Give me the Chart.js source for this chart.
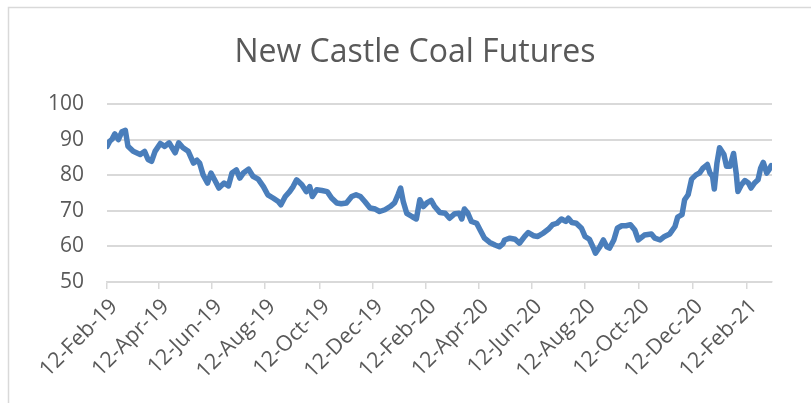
<!DOCTYPE html>
<html>
<head>
<meta charset="utf-8">
<script src="https://cdn.jsdelivr.net/npm/chart.js@4.4.1/dist/chart.umd.min.js"></script>
<style>
  html, body { margin: 0; padding: 0; background: #ffffff; overflow: hidden; }
  #wrap { position: absolute; left: 0; top: 0; width: 811px; height: 403px; }
</style>
</head>
<body>
<div id="wrap"><canvas id="c" width="811" height="403"></canvas></div>
<script>
// Days elapsed since 12-Feb-2019 (x values)
const dayIndex = [
  0, 3, 6, 9, 13, 17, 21, 24, 30, 38, 43, 47, 51, 55, 61, 66, 71, 78, 82, 87,
  93, 99, 103, 106, 110, 115, 119, 124, 128, 134, 139, 143, 148, 152, 156, 162, 167, 173, 179, 184,
  190, 196, 199, 204, 209, 213, 217, 223, 228, 232, 235, 240, 246, 252, 257, 263, 268, 274, 280, 285,
  290, 295, 301, 307, 312, 318, 324, 329, 333, 336, 339, 343, 349, 354, 358, 362, 366, 371, 375, 381,
  387, 392, 398, 403, 406, 409, 413, 417, 423, 427, 432, 438, 444, 449, 453, 455, 461, 467, 472, 478,
  482, 488, 493, 499, 505, 510, 515, 520, 525, 528, 532, 537, 543, 547, 552, 556, 559, 564, 568, 572,
  575, 580, 584, 589, 594, 599, 604, 608, 615, 623, 627, 633, 638, 644, 650, 653, 658, 661, 665, 669,
  674, 678, 682, 687, 690, 693, 695, 698, 701, 706, 709, 713, 717, 720, 722, 726, 730, 734, 737, 741,
  745, 748, 751, 755, 758, 760
];
// Coal futures price (USD/t)
const prices = [
  88.1, 89.5, 90.2, 91.6, 90.0, 92.2, 92.6, 88.1, 86.7, 85.8, 86.7, 84.4, 83.9, 86.7, 88.9, 88.1, 89.1, 86.3, 89.1, 87.7,
  86.7, 83.4, 84.2, 83.4, 80.1, 77.8, 80.6, 78.3, 76.4, 77.8, 77.0, 80.6, 81.5, 79.2, 80.6, 81.7, 79.7, 78.9, 76.8, 74.5,
  73.6, 72.6, 71.7, 74.0, 75.4, 76.8, 78.7, 77.3, 75.4, 76.8, 74.0, 75.9, 75.7, 75.4, 73.6, 72.2, 72.0, 72.2, 74.0, 74.5,
  74.0, 72.6, 70.8, 70.5, 69.8, 70.3, 71.2, 72.2, 74.5, 76.4, 72.6, 69.3, 68.4, 67.7, 73.1, 71.2, 72.2, 72.9, 71.2, 69.5,
  69.3, 67.9, 69.2, 69.3, 67.7, 70.5, 69.3, 67.0, 66.5, 64.6, 62.3, 61.1, 60.4, 59.9, 60.7, 61.8, 62.3, 62.0, 60.9, 62.8,
  63.9, 63.0, 62.8, 63.7, 64.8, 66.1, 66.5, 67.7, 67.0, 67.9, 66.7, 66.5, 65.1, 62.8, 62.0, 59.9, 58.1, 59.9, 61.8, 59.9,
  59.5, 61.8, 65.1, 65.8, 65.8, 66.1, 64.6, 61.8, 63.2, 63.5, 62.3, 61.8, 62.8, 63.5, 65.6, 68.2, 68.9, 73.1, 74.5, 78.9,
  80.1, 80.6, 82.0, 83.0, 80.6, 79.7, 76.1, 83.4, 87.7, 85.8, 82.5, 82.5, 86.1, 80.6, 75.4, 77.3, 78.5, 77.8, 76.4, 77.8,
  78.7, 82.0, 83.6, 80.6, 81.7, 82.7
];
// X axis tick labels and their positions (days since 12-Feb-2019)
const tickLabels = ['12-Feb-19','12-Apr-19','12-Jun-19','12-Aug-19','12-Oct-19','12-Dec-19',
                    '12-Feb-20','12-Apr-20','12-Jun-20','12-Aug-20','12-Oct-20','12-Dec-20','12-Feb-21'];
const tickDays = [0, 59, 120, 181, 243, 304, 365, 425, 486, 547, 609, 670, 732];
const yTicks = [50, 60, 70, 80, 90, 100];
const chartTitle = 'New Castle Coal Futures';

const points = dayIndex.map((d, i) => ({ x: d, y: prices[i] }));
const textColor = '#595959';
const gridColor = '#d9d9d9';
const FONT = "'Open Sans', 'DejaVu Sans', sans-serif";

// Outer chart border and the chart title (centred on the chart frame)
const framePlugin = {
  id: 'frameAndTitle',
  beforeDraw(chart) {
    const ctx = chart.ctx;
    ctx.save();
    ctx.strokeStyle = gridColor;
    ctx.lineWidth = 1.5;
    ctx.beginPath();
    ctx.moveTo(8.5, 403);
    ctx.lineTo(8.5, 7.5);
    ctx.lineTo(811, 7.5);
    ctx.stroke();
    ctx.fillStyle = textColor;
    ctx.font = "32px " + FONT;
    ctx.textAlign = 'center';
    ctx.textBaseline = 'alphabetic';
    ctx.fillText(chartTitle, 415, 62);
    ctx.restore();
  }
};

new Chart(document.getElementById('c'), {
  type: 'line',
  data: {
    datasets: [{
      label: chartTitle,
      data: points,
      borderColor: '#4a7ebb',
      borderWidth: 5.5,
      pointRadius: 0,
      tension: 0,
      borderJoinStyle: 'round',
      borderCapStyle: 'round',
      fill: false
    }]
  },
  options: {
    responsive: false,
    animation: false,
    layout: { padding: { left: 0, right: 39, top: 104, bottom: 0 } },
    plugins: {
      legend: { display: false },
      tooltip: { enabled: false },
      title: { display: false }
    },
    scales: {
      x: {
        type: 'linear',
        min: 0,
        max: 761,
        afterBuildTicks: (scale) => { scale.ticks = tickDays.map(v => ({ value: v })); },
        afterFit: (scale) => { scale.height = 121; },
        ticks: {
          autoSkip: false,
          minRotation: 45,
          maxRotation: 45,
          padding: 5,
          labelOffset: 7,
          color: textColor,
          font: { family: FONT, size: 21.5 },
          callback: (value, index) => tickLabels[index]
        },
        grid: {
          display: true,
          drawOnChartArea: false,
          drawTicks: true,
          tickLength: 7,
          color: gridColor,
          lineWidth: 1.5
        },
        border: { display: true, color: gridColor, width: 1.5 }
      },
      y: {
        min: 50,
        max: 100,
        afterBuildTicks: (scale) => { scale.ticks = yTicks.map(v => ({ value: v })); },
        afterFit: (scale) => { scale.width = 107; },
        ticks: {
          padding: 23,
          color: textColor,
          font: { family: FONT, size: 21 }
        },
        grid: {
          color: gridColor,
          lineWidth: 2,
          drawTicks: false
        },
        border: { display: false }
      }
    }
  },
  plugins: [framePlugin]
});
</script>
</body>
</html>
